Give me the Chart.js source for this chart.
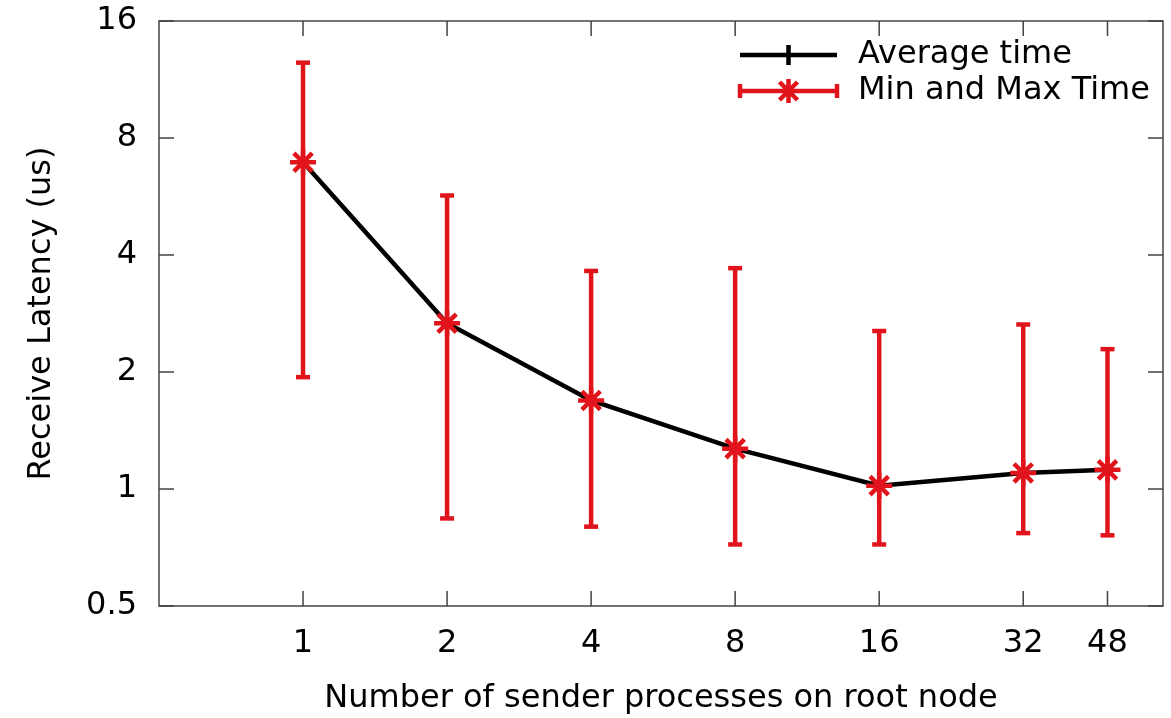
<!DOCTYPE html>
<html>
<head>
<meta charset="utf-8">
<script src="https://cdn.jsdelivr.net/npm/chart.js@4/dist/chart.umd.min.js"></script>
<style>
  body { margin: 0; background: #fff; }
  canvas { display: block; }
</style>
</head>
<body>
<canvas id="chart" width="1171" height="718"></canvas>
<script>
// values (log2 axes)
const senders = [1, 2, 4, 8, 16, 32, 48]
const avgTime = [6.93, 2.67, 1.69, 1.27, 1.02, 1.10, 1.12]
const minTime = [1.94, 0.84, 0.80, 0.72, 0.72, 0.77, 0.76]
const maxTime = [12.5, 5.69, 3.64, 3.70, 2.55, 2.65, 2.29]
const xTicks = [1, 2, 4, 8, 16, 32, 48]
const yTicks = [0.5, 1, 2, 4, 8, 16]

const RED = '#e0141a'
const FONT = "'DejaVu Sans', sans-serif"

Chart.defaults.font.family = FONT
Chart.defaults.font.size = 32
Chart.defaults.color = '#000'

const avgPoints = senders.map((s, i) => ({ x: s, y: avgTime[i] }))

// one small dataset per error bar, caps drawn with the 'line' point style
const errorBars = senders.map((s, i) => ({
    label: '',
    data: [{ x: s, y: minTime[i] }, { x: s, y: maxTime[i] }],
    showLine: true,
    borderColor: RED,
    borderWidth: 4.5,
    pointStyle: 'line',
    pointRadius: 7,
    pointBorderWidth: 4.5,
    pointBorderColor: RED,
    order: 1
}))

// inward ticks on all four sides + frame
const frameTicks = {
    id: 'frameTicks',
    afterDatasetsDraw(chart) {
        const { ctx, chartArea: a, scales } = chart
        ctx.save()
        ctx.strokeStyle = '#444'
        ctx.lineWidth = 1.5
        ctx.strokeRect(a.left, a.top, a.right - a.left, a.bottom - a.top)
        ctx.beginPath()
        scales.x.ticks.forEach(t => {
            const px = scales.x.getPixelForValue(t.value)
            ctx.moveTo(px, a.bottom); ctx.lineTo(px, a.bottom - 15)
            ctx.moveTo(px, a.top); ctx.lineTo(px, a.top + 15)
        })
        scales.y.ticks.forEach(t => {
            const py = scales.y.getPixelForValue(t.value)
            ctx.moveTo(a.left, py); ctx.lineTo(a.left + 15, py)
            ctx.moveTo(a.right, py); ctx.lineTo(a.right - 15, py)
        })
        ctx.stroke()
        ctx.restore()
    }
}

// gnuplot style key in the top right corner
const gnuKey = {
    id: 'gnuKey',
    afterDraw(chart) {
        const { ctx, chartArea: a } = chart
        const x0 = a.right - 423, x1 = a.right - 326, xm = (x0 + x1) / 2
        const tx = a.right - 305
        const y1 = a.top + 34, y2 = a.top + 70
        ctx.save()
        ctx.lineCap = 'butt'
        // Average time
        ctx.strokeStyle = '#000'
        ctx.lineWidth = 4.5
        ctx.beginPath()
        ctx.moveTo(x0, y1); ctx.lineTo(x1, y1)
        ctx.moveTo(xm, y1 - 10); ctx.lineTo(xm, y1 + 10)
        ctx.stroke()
        // Min and Max
        ctx.strokeStyle = RED
        ctx.beginPath()
        ctx.moveTo(x0, y2); ctx.lineTo(x1, y2)
        ctx.moveTo(x0, y2 - 7); ctx.lineTo(x0, y2 + 7)
        ctx.moveTo(x1, y2 - 7); ctx.lineTo(x1, y2 + 7)
        ctx.moveTo(xm - 12, y2); ctx.lineTo(xm + 12, y2)
        ctx.moveTo(xm, y2 - 12); ctx.lineTo(xm, y2 + 12)
        ctx.moveTo(xm - 9, y2 - 9); ctx.lineTo(xm + 9, y2 + 9)
        ctx.moveTo(xm - 9, y2 + 9); ctx.lineTo(xm + 9, y2 - 9)
        ctx.stroke()
        ctx.fillStyle = '#000'
        ctx.font = '32px ' + FONT
        ctx.textBaseline = 'middle'
        ctx.textAlign = 'left'
        ctx.fillText(chart.data.datasets[0].label, tx, y1)
        ctx.fillText(chart.data.datasets[1].label, tx, y2)
        ctx.restore()
    }
}

new Chart(document.getElementById('chart'), {
    type: 'scatter',
    data: {
        datasets: [
            {
                label: 'Average time',
                data: avgPoints,
                showLine: true,
                borderColor: '#000',
                borderWidth: 4.5,
                pointRadius: 0,
                order: 2
            },
            {
                label: 'Min and Max Time',
                data: avgPoints,
                showLine: false,
                pointStyle: 'star',
                pointRadius: 13,
                pointBorderWidth: 4.5,
                pointBorderColor: RED,
                pointBackgroundColor: RED,
                order: 0
            },
            ...errorBars
        ]
    },
    options: {
        responsive: false,
        animation: false,
        layout: { autoPadding: false, padding: { top: 21, right: 8, left: 0, bottom: 0 } },
        plugins: {
            legend: { display: false },
            tooltip: { enabled: false }
        },
        scales: {
            x: {
                type: 'logarithmic',
                min: 0.5,
                max: 62.7,
                bounds: 'data',
                afterBuildTicks: (scale) => { scale.ticks = xTicks.map(v => ({ value: v })) },
                afterFit: (scale) => {
                    scale.height = 112
                    scale.paddingLeft = 0
                    scale.paddingRight = 0
                },
                grid: { display: false, drawTicks: false },
                border: { display: false },
                ticks: { callback: v => String(v), padding: 18, maxRotation: 0, autoSkip: false },
                title: {
                    display: true,
                    text: 'Number of sender processes on root node',
                    padding: { top: 0, bottom: 0 }
                }
            },
            y: {
                type: 'logarithmic',
                min: 0.5,
                max: 16,
                bounds: 'data',
                afterBuildTicks: (scale) => { scale.ticks = yTicks.map(v => ({ value: v })) },
                afterFit: (scale) => {
                    scale.width = 159
                    scale.paddingTop = 0
                    scale.paddingBottom = 0
                },
                grid: { display: false, drawTicks: false },
                border: { display: false },
                ticks: { callback: v => String(v), padding: 22, autoSkip: false },
                title: {
                    display: true,
                    text: 'Receive Latency (us)',
                    padding: { top: 22, bottom: 0 }
                }
            }
        }
    },
    plugins: [frameTicks, gnuKey]
})
</script>
</body>
</html>
